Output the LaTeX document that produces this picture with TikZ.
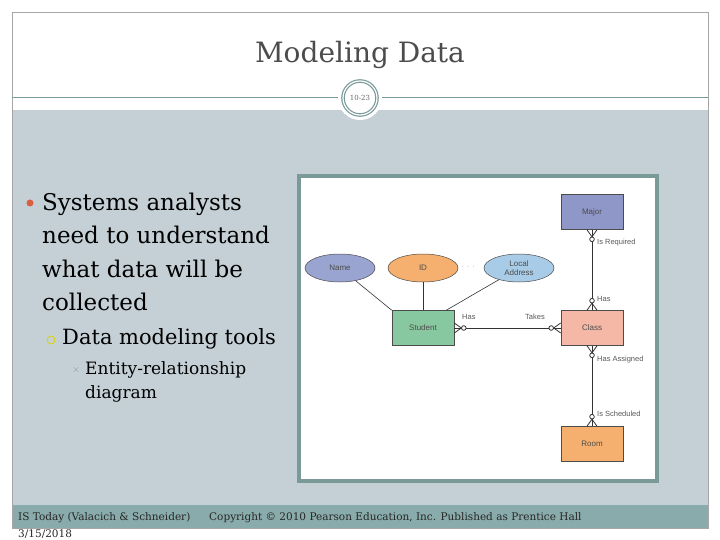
\documentclass[tikz,border=0pt]{standalone}
\usetikzlibrary{shapes.geometric}
\usepackage{fontspec}
\setmainfont{DejaVu Serif}
\newfontfamily\sansf{Liberation Sans}
\begin{document}
\begin{tikzpicture}[x=1pt,y=-1pt,
  ent/.style={draw=black!70,line width=0.6pt,minimum width=62pt,minimum height=35pt,font=\sansf\fontsize{8}{9}\selectfont,text=black!70,inner sep=0pt},
  attr/.style={ellipse,draw=black!70,line width=0.5pt,minimum width=70pt,minimum height=28pt,font=\sansf\fontsize{8}{9}\selectfont,text=black!70,align=center,inner sep=0pt},
  rel/.style={font=\sansf\fontsize{7.5}{8}\selectfont,text=black!65,anchor=west,inner sep=0pt},
  conn/.style={line width=0.8pt,black!80},
  foot/.style={font=\fontsize{10.5}{12}\selectfont,text=black!85,anchor=west,inner sep=0pt}]
\useasboundingbox (0,0) rectangle (720,540);
\fill[white] (0,0) rectangle (720,540);
\definecolor{grey}{HTML}{C5D0D6}
\definecolor{band}{HTML}{8AABAB}
\definecolor{frame}{HTML}{7A9A98}
\definecolor{bul}{HTML}{D9603F}
\fill[grey] (12,110) rectangle (708,505);
\fill[band] (12,505) rectangle (708,528);
\draw[black!35,line width=0.5pt] (12,12) rectangle (708,528);
\draw[frame,line width=1pt] (12,98) -- (708,98);
\node[font=\fontsize{28}{30}\selectfont,text=black!70] (title) at (360,55) {Modeling Data};
\node[circle,fill=white,minimum size=44pt,inner sep=0pt] (pg) at (360,98) {};
\node[circle,draw=frame,line width=1.2pt,minimum size=34pt,inner sep=0pt,double=white,double distance=1.2pt,font=\fontsize{7}{8}\selectfont,text=black!60] (num) at (360,98) {10-23};
% left text
\fill[bul] (30,203) circle (3.5);
\node[anchor=west,inner sep=0pt,font=\fontsize{23}{33.5}\selectfont,align=left,text=black] (t1) at (42,252) {Systems analysts\\need to understand\\what data will be\\collected};
\draw[yellow!70!olive,line width=0.8pt] (51,340) circle (4);
\node[anchor=west,inner sep=0pt,font=\fontsize{21}{24}\selectfont,text=black] (t2) at (62,339) {Data modeling tools};
\node[font=\fontsize{10}{10}\selectfont,text=frame,inner sep=0pt] (m3) at (76,370) {$\times$};
\node[anchor=west,inner sep=0pt,font=\fontsize{17}{24}\selectfont,align=left,text=black] (t3) at (85,382) {Entity-relationship\\diagram};
% image frame
\draw[frame,line width=3.5pt,fill=white] (299,176) rectangle (657,481);
\node[ent,fill={rgb,255:red,143;green,150;blue,200}] (major) at (592,212) {Major};
\node[ent,fill={rgb,255:red,245;green,184;blue,166}] (class) at (592,328) {Class};
\node[ent,fill={rgb,255:red,245;green,176;blue,112}] (room) at (592,444) {Room};
\node[ent,fill={rgb,255:red,136;green,200;blue,160}] (student) at (423,328) {Student};
\node[attr,fill={rgb,255:red,154;green,164;blue,208}] (name) at (340,268) {Name};
\node[attr,fill={rgb,255:red,245;green,176;blue,112}] (id) at (423,268) {ID};
\node[attr,fill={rgb,255:red,168;green,204;blue,232}] (la) at (519,268) {Local\\Address};
\node[font=\sansf\fontsize{7}{8}\selectfont,text=black!60] (dots) at (468,267) {$\cdot\,\cdot\,\cdot$};
\draw[conn,line width=0.6pt] (name) -- (student.north west);
\draw[conn,line width=0.6pt] (id) -- (student);
\draw[conn,line width=0.6pt] (la) -- ([xshift=-8pt]student.north east);
\draw[conn] (major) -- (class);
\draw[conn] (class) -- (room);
\draw[conn] (student) -- (class);
\newcommand\crowfoot[2]{\begin{scope}[shift={(#1)},rotate=#2]
  \draw[conn] (-7,0) -- (0,-5) (-7,0) -- (0,5);
  \draw[conn,fill=white] (-9.5,0) circle (2.3);
\end{scope}}
\crowfoot{major.south}{90}
\crowfoot{class.north}{-90}
\crowfoot{class.south}{90}
\crowfoot{room.north}{-90}
\crowfoot{student.east}{180}
\crowfoot{class.west}{0}
\node[rel] (r1) at (597,243) {Is Required};
\node[rel] (r2) at (597,299) {Has};
\node[rel] (r3) at (462,317) {Has};
\node[rel] (r4) at (525,317) {Takes};
\node[rel] (r5) at (597,360) {Has Assigned};
\node[rel] (r6) at (597,414) {Is Scheduled};
% footer
\node[foot] (f1) at (18,518) {IS Today (Valacich \& Schneider)};
\node[foot] (f2) at (209,518) {Copyright \textcopyright{} 2010 Pearson Education, Inc. Published as Prentice Hall};
\node[foot] (f3) at (18,534) {3/15/2018};
\end{tikzpicture}
\end{document}
